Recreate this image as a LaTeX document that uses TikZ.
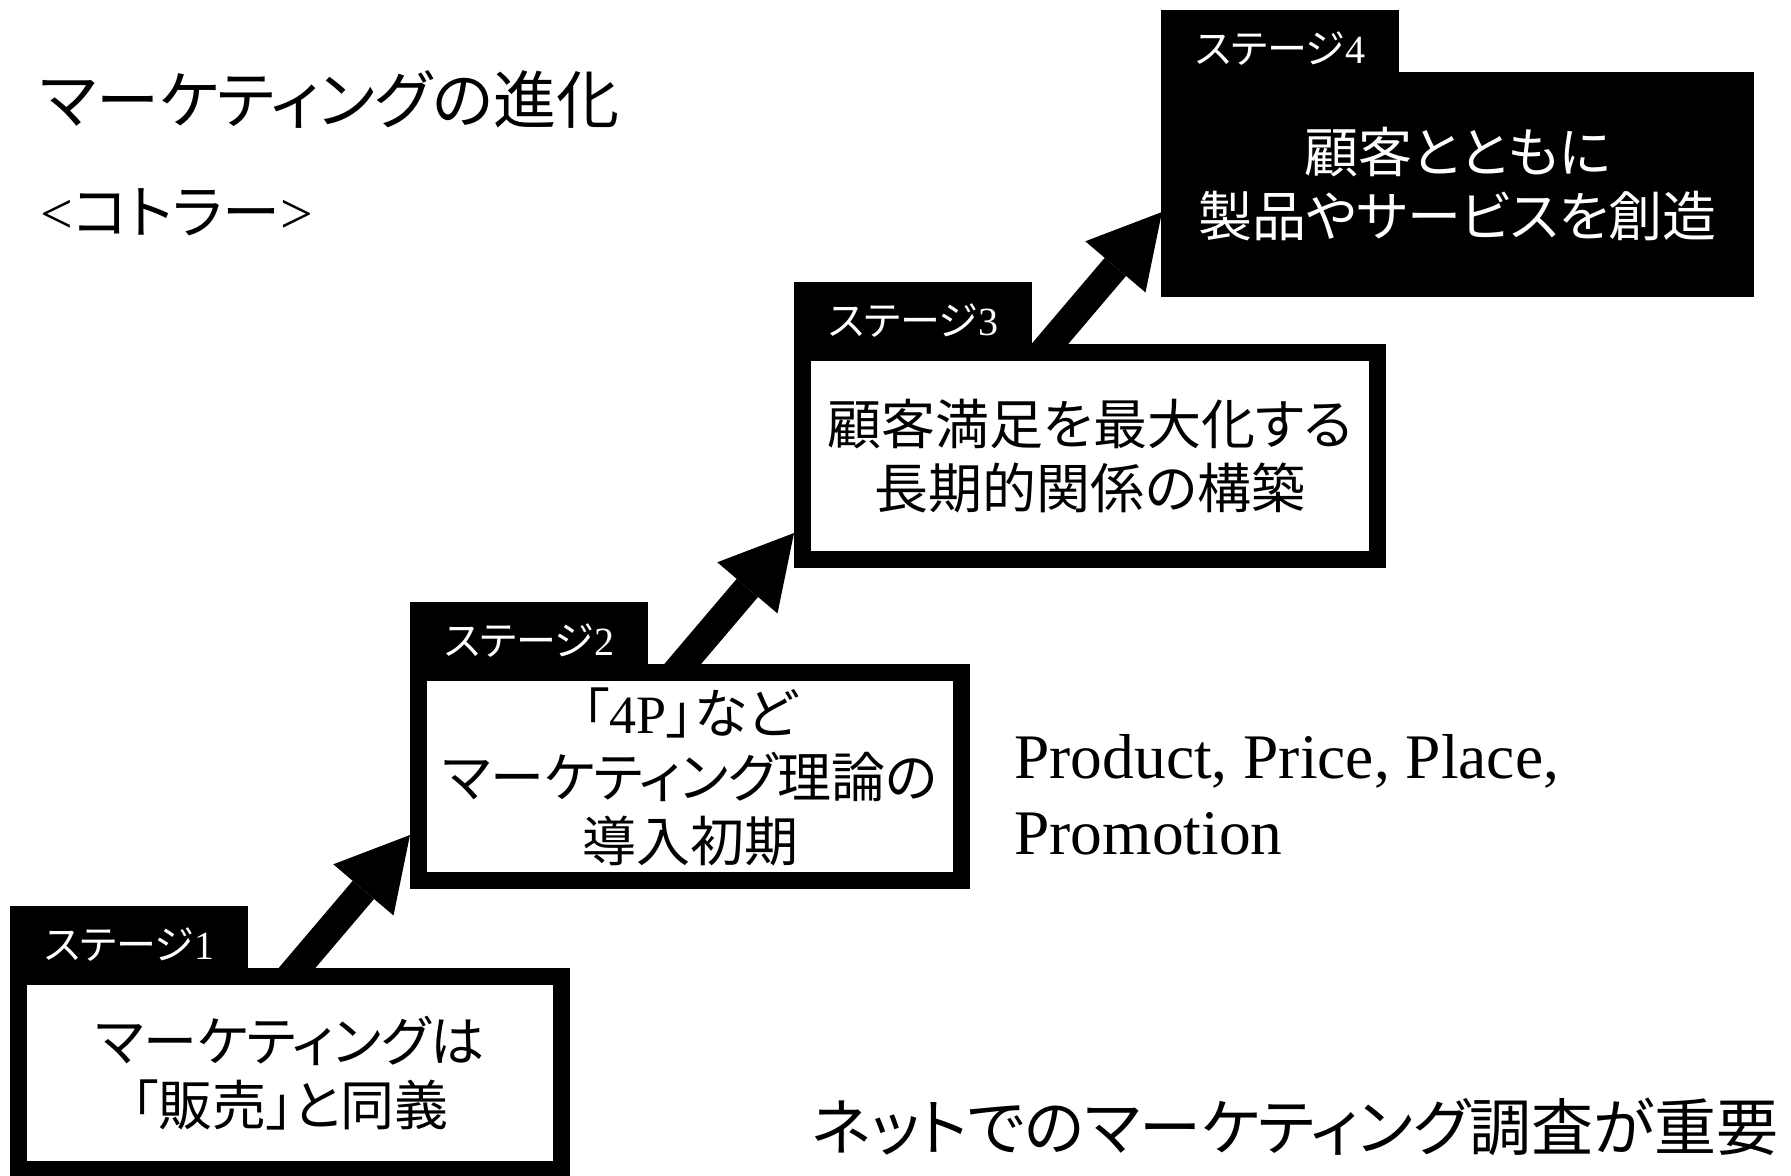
\documentclass[tikz,border=0pt]{standalone}
\usepackage{fontspec}
\setmainfont{Liberation Serif}
\newfontfamily\jp[RawFeature=+palt]{Noto Sans CJK JP}
\usepackage{tikz}
\usetikzlibrary{arrows.meta,calc,backgrounds}
\tikzset{every picture/.style={line width=0.75pt}}
\tikzset{
  stagebox/.style={draw=black, fill=white, line width=12.75pt, inner sep=0pt, outer sep=0pt, anchor=north west, align=center, font=\jp\fontsize{40.5}{48}\selectfont},
  stagetab/.style={fill=black, text=white, inner sep=0pt, outer sep=0pt, anchor=south west, minimum width=178.5pt, minimum height=52.9pt, text height=28pt, text depth=0pt, font=\fontsize{30}{36}\selectfont},
  stagearrow/.style={line width=21pt, -{Triangle[length=54pt,width=59.25pt,line width=0pt]}},
  plaintext/.style={inner sep=0pt, anchor=west}
}

\begin{document}
\begin{tikzpicture}[x=0.75pt,y=0.75pt,yscale=-1,xscale=1]
\useasboundingbox (0,0) rectangle (1791,1175);
% headings
\draw (40,99) node (title) [plaintext, font=\jp\fontsize{47.3}{56}\selectfont] {マーケティングの進化};
\draw (40,212) node (kotler) [plaintext, font=\fontsize{43.5}{52}\selectfont] {<{\jp コトラー}>};
% stages
\draw (18.5,976.5) node (b1) [stagebox, minimum width=407.25pt, minimum height=144.75pt] {マーケティングは\\「販売」と同義};
\draw (418.5,672.5) node (b2) [stagebox, minimum width=407.25pt, minimum height=156pt] {「{\rmfamily 4P}」など\\マーケティング理論の\\導入初期};
\draw (802.5,352.5) node (b3) [stagebox, minimum width=431.25pt, minimum height=155.25pt] {顧客満足を最大化する\\長期的関係の構築};
\draw (1169.5,80.5) node (b4) [stagebox, fill=black, text=white, minimum width=432pt, minimum height=156pt] {顧客とともに\\製品やサービスを創造};
\draw ($(b1.north west)+(-8.5,0)$) node (t1) [stagetab] {{\jp ステージ}1};
\draw ($(b2.north west)+(-8.5,0)$) node (t2) [stagetab] {{\jp ステージ}2};
\draw ($(b3.north west)+(-8.5,0)$) node (t3) [stagetab] {{\jp ステージ}3};
\draw ($(b4.north west)+(-8.5,0)$) node (t4) [stagetab] {{\jp ステージ}4};
% arrows between stages
\begin{scope}[on background layer]
\coordinate (q1) at ($(b1.north west)+(261.5,11.5)$);
\coordinate (p1) at ($(b2.south west)+(-8.5,-45.5)$);
\coordinate (q2) at ($(b2.north west)+(245.5,13.5)$);
\coordinate (p2) at ($(b3.south west)+(-8.5,-26.5)$);
\coordinate (q3) at ($(b3.north west)+(229.5,12.5)$);
\coordinate (p3) at ($(b4.south west)+(-7.5,-76.5)$);
\draw [stagearrow] (q1) -- (p1);
\draw [stagearrow] (q2) -- (p2);
\draw [stagearrow] (q3) -- (p3);
\end{scope}
% notes
\draw (1014,734) node (fourp) [inner sep=0pt, anchor=north west, align=left, font=\fontsize{47.6}{57}\selectfont] {Product, Price, Place,\\Promotion};
\draw (811,1127) node (netnote) [plaintext, font=\jp\fontsize{46.5}{56}\selectfont] {ネットでのマーケティング調査が重要};
\end{tikzpicture}
\end{document}
